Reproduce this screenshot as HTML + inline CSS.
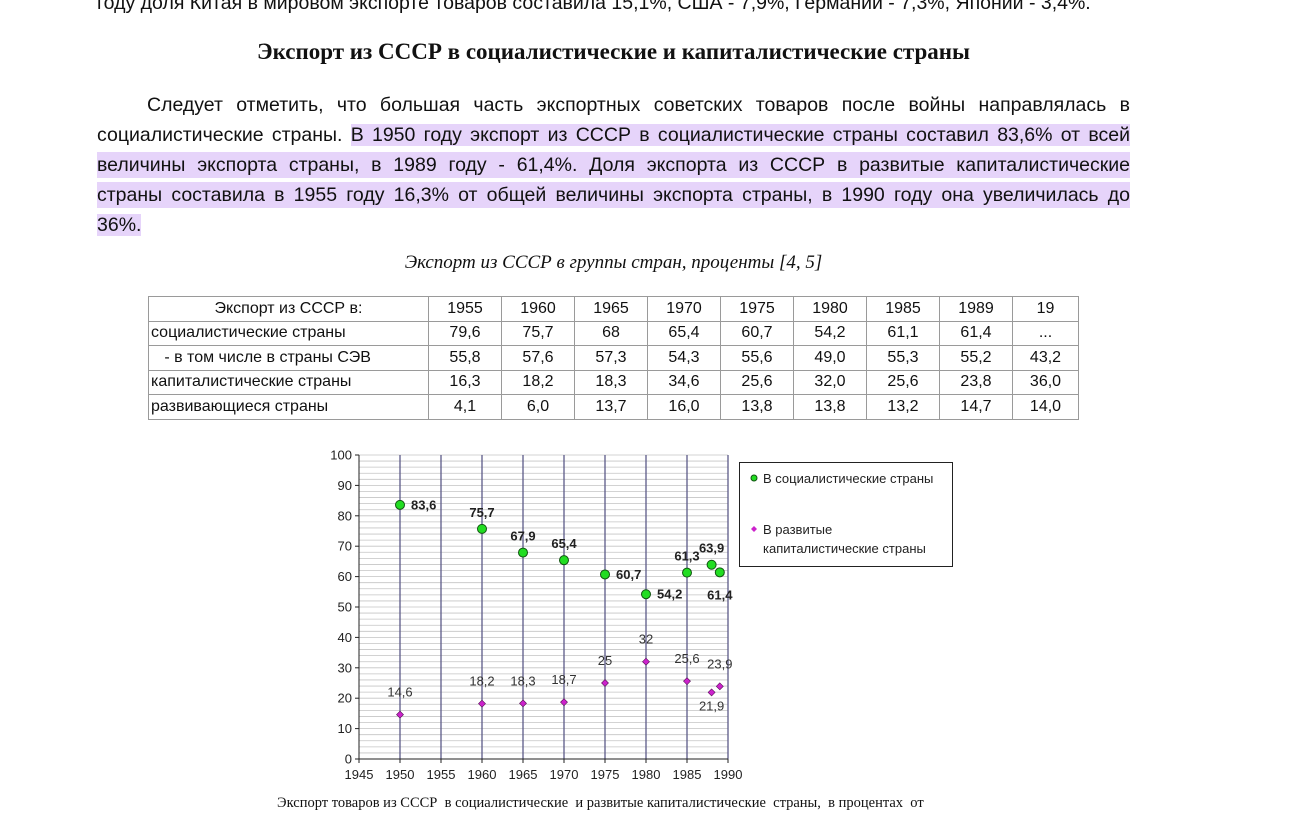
<!DOCTYPE html>
<html><head><meta charset="utf-8">
<style>
body{margin:0;width:1297px;height:814px;overflow:hidden;background:#fff;position:relative;font-family:"Liberation Sans",sans-serif;color:#111}
.ln{position:absolute;left:97px;width:1033px;font-size:19.5px;line-height:26px;height:26px;white-space:nowrap;text-align:justify;text-align-last:justify}
.hl{background:#e6d4fa}
table{position:absolute;left:148px;top:296px;border-collapse:collapse;font-size:16px;table-layout:fixed;width:930px}
td{border:1px solid #9a9a9a;height:23.5px;padding:0 2px;text-align:center;overflow:hidden;white-space:nowrap}
td:first-child{text-align:left}
</style></head><body>
<div class="ln" style="top:-10px;width:1017px;left:97px;text-align:left;text-align-last:left">году доля Китая в мировом экспорте товаров составила 15,1%, США - 7,9%, Германии - 7,3%, Японии - 3,4%.</div>
<div style="position:absolute;top:39px;left:0;width:1227px;text-align:center;font-family:'Liberation Serif',serif;font-weight:bold;font-size:23px">Экспорт из СССР в социалистические и капиталистические страны</div>
<div class="ln" style="top:92px;left:147px;width:983px">Следует отметить, что большая часть экспортных советских товаров после войны направлялась в</div>
<div class="ln" style="top:122px">социалистические страны. <span class="hl">В 1950 году экспорт из СССР в социалистические страны составил 83,6% от всей</span></div>
<div class="ln hl" style="top:152px">величины экспорта страны, в 1989 году - 61,4%. Доля экспорта из СССР в развитые капиталистические</div>
<div class="ln hl" style="top:182px">страны составила в 1955 году 16,3% от общей величины экспорта страны, в 1990 году она увеличилась до</div>
<div class="ln" style="top:212px;width:auto;text-align:left;text-align-last:left"><span class="hl">36%.</span></div>
<div style="position:absolute;top:252px;left:0;width:1227px;text-align:center;font-family:'Liberation Serif',serif;font-style:italic;font-size:19px">Экспорт из СССР в группы стран, проценты [4, 5]</div>
<table>
<colgroup><col style="width:280px"><col style="width:73px"><col style="width:73px"><col style="width:73px"><col style="width:73px"><col style="width:73px"><col style="width:73px"><col style="width:73px"><col style="width:73px"><col style="width:66px"></colgroup>
<tr><td style="text-align:center">Экспорт из СССР в:</td><td>1955</td><td>1960</td><td>1965</td><td>1970</td><td>1975</td><td>1980</td><td>1985</td><td>1989</td><td>19</td></tr>
<tr><td>социалистические страны</td><td>79,6</td><td>75,7</td><td>68</td><td>65,4</td><td>60,7</td><td>54,2</td><td>61,1</td><td>61,4</td><td>...</td></tr>
<tr><td>&nbsp;&nbsp;&nbsp;- в том числе в страны СЭВ</td><td>55,8</td><td>57,6</td><td>57,3</td><td>54,3</td><td>55,6</td><td>49,0</td><td>55,3</td><td>55,2</td><td>43,2</td></tr>
<tr><td>капиталистические страны</td><td>16,3</td><td>18,2</td><td>18,3</td><td>34,6</td><td>25,6</td><td>32,0</td><td>25,6</td><td>23,8</td><td>36,0</td></tr>
<tr><td>развивающиеся страны</td><td>4,1</td><td>6,0</td><td>13,7</td><td>16,0</td><td>13,8</td><td>13,8</td><td>13,2</td><td>14,7</td><td>14,0</td></tr>
</table>
<svg id="chart" width="1297" height="814" style="position:absolute;left:0;top:0" font-family="Liberation Sans, sans-serif"></svg>
<div style="position:absolute;top:795px;left:277px;font-family:'Liberation Serif',serif;font-size:14.5px;white-space:pre">Экспорт товаров из СССР  в социалистические  и развитые капиталистические  страны,  в процентах  от</div>
<script>
const socYears=[1950,1960,1965,1970,1975,1980,1985,1988,1989];
const socValues=[83.6,75.7,67.9,65.4,60.7,54.2,61.3,63.9,61.4];
const socLabels=["83,6","75,7","67,9","65,4","60,7","54,2","61,3","63,9","61,4"];
const capYears=[1950,1960,1965,1970,1975,1980,1985,1988,1989];
const capValues=[14.6,18.2,18.3,18.7,25,32,25.6,21.9,23.9];
const capLabels=["14,6","18,2","18,3","18,7","25","32","25,6","21,9","23,9"];
const xTicks=[1945,1950,1955,1960,1965,1970,1975,1980,1985,1990];
const yTicks=[0,10,20,30,40,50,60,70,80,90,100];
const socLabelPos=["r","t","t","t","r","r","t","t","b"];
const capLabelPos=["t","t","t","t","t","t","t","b","t"];
const X0=359,X1=728,Y0=759,Y1=455;
const xs=v=>X0+(v-1945)/45*(X1-X0);
const ys=v=>Y0-v/100*(Y0-Y1);
const svg=document.getElementById('chart');const NS='http://www.w3.org/2000/svg';
function mk(t,a,p){const e=document.createElementNS(NS,t);for(const k in a)e.setAttribute(k,a[k]);(p||svg).appendChild(e);return e;}
let e;
for(let v=0;v<=100;v+=2){e=mk('line',{x1:X0,x2:X1,y1:ys(v),y2:ys(v),stroke:'#c4c4c4','stroke-width':0.8});

}
xTicks.forEach(t=>{if(t===1945)return;e=mk('line',{x1:xs(t),x2:xs(t),y1:Y1,y2:Y0,stroke:'#5c5a88','stroke-width':1.3});

});
e=mk('line',{x1:X0,x2:X0,y1:Y1,y2:Y0,stroke:'#222'});


e=mk('line',{x1:X0,x2:X1,y1:Y0,y2:Y0,stroke:'#222'});


yTicks.forEach(t=>{mk('line',{x1:X0-4,x2:X0,y1:ys(t),y2:ys(t),stroke:'#222'});
e=mk('text',{x:X0-7,y:ys(t)+4.5,'text-anchor':'end','font-size':13,fill:'#222'});e.textContent=t;

});
xTicks.forEach(t=>{mk('line',{x1:xs(t),x2:xs(t),y1:Y0,y2:Y0+4,stroke:'#222'});
e=mk('text',{x:xs(t),y:Y0+20,'text-anchor':'middle','font-size':13,fill:'#222'});e.textContent=t;

});
socYears.forEach((yr,i)=>{const cx=xs(yr),cy=ys(socValues[i]);
e=mk('circle',{cx,cy,r:4.5,fill:'#22dd22',stroke:'#115511','stroke-width':1});


const p=socLabelPos[i];let tx=cx,ty=cy,an='middle';
if(p==='r'){tx=cx+11;ty=cy+4.5;an='start';}else if(p==='t'){ty=cy-12;}else{ty=cy+27;}
e=mk('text',{x:tx,y:ty,'text-anchor':an,'font-size':13,'font-weight':'bold',fill:'#222'});e.textContent=socLabels[i];

});
capYears.forEach((yr,i)=>{const cx=xs(yr),cy=ys(capValues[i]);
e=mk('path',{d:`M${cx} ${cy-3.5}L${cx+3.5} ${cy}L${cx} ${cy+3.5}L${cx-3.5} ${cy}Z`,fill:'#cc22cc',stroke:'#551155','stroke-width':0.6});


const ty=capLabelPos[i]==='t'?cy-18:cy+18;
e=mk('text',{x:cx,y:ty,'text-anchor':'middle','font-size':13,fill:'#333'});e.textContent=capLabels[i];

});
const lg=mk('g',{});


mk('rect',{x:739.5,y:462.5,width:213,height:104,fill:'#fff',stroke:'#222','stroke-width':1},lg);
mk('circle',{cx:754,cy:478,r:3,fill:'#22dd22',stroke:'#115511'},lg);
e=mk('text',{x:763,y:483,'font-size':13,fill:'#222'},lg);e.textContent='В социалистические страны';
mk('path',{d:'M754 526L757 529L754 532L751 529Z',fill:'#cc22cc'},lg);
e=mk('text',{x:763,y:534,'font-size':13,fill:'#222'},lg);e.textContent='В развитые';
e=mk('text',{x:763,y:553,'font-size':13,fill:'#222'},lg);e.textContent='капиталистические страны';
</script>
</body></html>
